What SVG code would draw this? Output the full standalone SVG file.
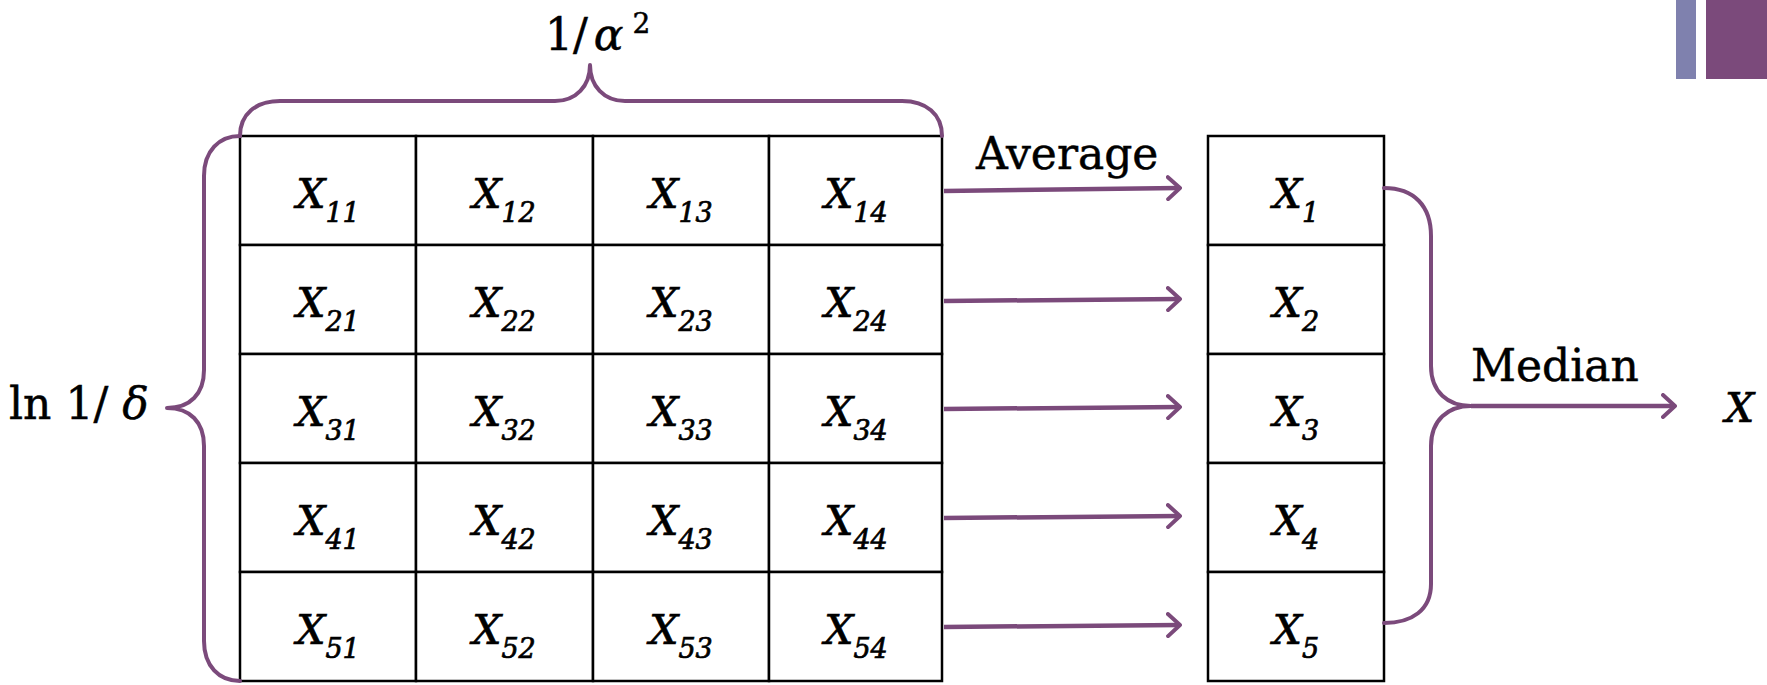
<svg xmlns="http://www.w3.org/2000/svg" width="1767" height="685" viewBox="0 0 1767 685">
<style>
.cell{fill:#ffffff;stroke:#000000;stroke-width:2.5}
.cx{font-family:"DejaVu Serif",serif;font-style:italic;font-size:41px;fill:#000000;stroke:#000000;stroke-width:0.7}
.sub{font-size:27px}
.lbl{font-family:"DejaVu Serif",serif;font-size:44px;fill:#000000;stroke:#000000;stroke-width:0.5}
.br{fill:none;stroke:#7b4a7b;stroke-width:4;stroke-linecap:round;stroke-linejoin:round}
.ar{fill:none;stroke:#7b4a7b;stroke-width:4.5;marker-end:url(#arr)}
</style>
<defs>
<marker id="arr" viewBox="0 0 16 26" refX="13" refY="13" markerWidth="16" markerHeight="26" markerUnits="userSpaceOnUse" orient="auto">
<path d="M2,2 L14,13 L2,24" fill="none" stroke="#7b4a7b" stroke-width="4" stroke-linecap="round" stroke-linejoin="round"/>
</marker>
</defs>
<rect width="1767" height="685" fill="#ffffff"/>
<g id="decor">
<rect x="1676" y="0" width="20" height="79" fill="#7f81ae"/>
<rect x="1706" y="0" width="61" height="79" fill="#7b4a7b"/>
</g>
<g id="grid">
<g id="c11"><rect class="cell" x="240" y="136" width="176" height="109"/><text class="cx" x="328" y="208" text-anchor="middle">X<tspan class="sub" dy="14">11</tspan></text></g>
<g id="c12"><rect class="cell" x="416" y="136" width="177" height="109"/><text class="cx" x="504" y="208" text-anchor="middle">X<tspan class="sub" dy="14">12</tspan></text></g>
<g id="c13"><rect class="cell" x="593" y="136" width="176" height="109"/><text class="cx" x="681" y="208" text-anchor="middle">X<tspan class="sub" dy="14">13</tspan></text></g>
<g id="c14"><rect class="cell" x="769" y="136" width="173" height="109"/><text class="cx" x="856" y="208" text-anchor="middle">X<tspan class="sub" dy="14">14</tspan></text></g>
<g id="c21"><rect class="cell" x="240" y="245" width="176" height="109"/><text class="cx" x="328" y="317" text-anchor="middle">X<tspan class="sub" dy="14">21</tspan></text></g>
<g id="c22"><rect class="cell" x="416" y="245" width="177" height="109"/><text class="cx" x="504" y="317" text-anchor="middle">X<tspan class="sub" dy="14">22</tspan></text></g>
<g id="c23"><rect class="cell" x="593" y="245" width="176" height="109"/><text class="cx" x="681" y="317" text-anchor="middle">X<tspan class="sub" dy="14">23</tspan></text></g>
<g id="c24"><rect class="cell" x="769" y="245" width="173" height="109"/><text class="cx" x="856" y="317" text-anchor="middle">X<tspan class="sub" dy="14">24</tspan></text></g>
<g id="c31"><rect class="cell" x="240" y="354" width="176" height="109"/><text class="cx" x="328" y="426" text-anchor="middle">X<tspan class="sub" dy="14">31</tspan></text></g>
<g id="c32"><rect class="cell" x="416" y="354" width="177" height="109"/><text class="cx" x="504" y="426" text-anchor="middle">X<tspan class="sub" dy="14">32</tspan></text></g>
<g id="c33"><rect class="cell" x="593" y="354" width="176" height="109"/><text class="cx" x="681" y="426" text-anchor="middle">X<tspan class="sub" dy="14">33</tspan></text></g>
<g id="c34"><rect class="cell" x="769" y="354" width="173" height="109"/><text class="cx" x="856" y="426" text-anchor="middle">X<tspan class="sub" dy="14">34</tspan></text></g>
<g id="c41"><rect class="cell" x="240" y="463" width="176" height="109"/><text class="cx" x="328" y="535" text-anchor="middle">X<tspan class="sub" dy="14">41</tspan></text></g>
<g id="c42"><rect class="cell" x="416" y="463" width="177" height="109"/><text class="cx" x="504" y="535" text-anchor="middle">X<tspan class="sub" dy="14">42</tspan></text></g>
<g id="c43"><rect class="cell" x="593" y="463" width="176" height="109"/><text class="cx" x="681" y="535" text-anchor="middle">X<tspan class="sub" dy="14">43</tspan></text></g>
<g id="c44"><rect class="cell" x="769" y="463" width="173" height="109"/><text class="cx" x="856" y="535" text-anchor="middle">X<tspan class="sub" dy="14">44</tspan></text></g>
<g id="c51"><rect class="cell" x="240" y="572" width="176" height="109"/><text class="cx" x="328" y="644" text-anchor="middle">X<tspan class="sub" dy="14">51</tspan></text></g>
<g id="c52"><rect class="cell" x="416" y="572" width="177" height="109"/><text class="cx" x="504" y="644" text-anchor="middle">X<tspan class="sub" dy="14">52</tspan></text></g>
<g id="c53"><rect class="cell" x="593" y="572" width="176" height="109"/><text class="cx" x="681" y="644" text-anchor="middle">X<tspan class="sub" dy="14">53</tspan></text></g>
<g id="c54"><rect class="cell" x="769" y="572" width="173" height="109"/><text class="cx" x="856" y="644" text-anchor="middle">X<tspan class="sub" dy="14">54</tspan></text></g>
</g>
<g id="avg">
<g id="a1"><rect class="cell" x="1208" y="136" width="176" height="109"/><text class="cx" x="1296" y="208" text-anchor="middle">X<tspan class="sub" dy="14">1</tspan></text></g>
<g id="a2"><rect class="cell" x="1208" y="245" width="176" height="109"/><text class="cx" x="1296" y="317" text-anchor="middle">X<tspan class="sub" dy="14">2</tspan></text></g>
<g id="a3"><rect class="cell" x="1208" y="354" width="176" height="109"/><text class="cx" x="1296" y="426" text-anchor="middle">X<tspan class="sub" dy="14">3</tspan></text></g>
<g id="a4"><rect class="cell" x="1208" y="463" width="176" height="109"/><text class="cx" x="1296" y="535" text-anchor="middle">X<tspan class="sub" dy="14">4</tspan></text></g>
<g id="a5"><rect class="cell" x="1208" y="572" width="176" height="109"/><text class="cx" x="1296" y="644" text-anchor="middle">X<tspan class="sub" dy="14">5</tspan></text></g>
</g>
<g id="result"><text class="cx" x="1725" y="422">X</text></g>
<g id="labels">
<text class="lbl" x="545" y="50">1/<tspan font-style="italic" dx="6">α</tspan><tspan font-size="28" dx="9" dy="-17">2</tspan></text>
<text class="lbl" x="9" y="419">ln 1/ <tspan font-style="italic">δ</tspan></text>
<text class="lbl" x="976" y="169">Average</text>
<text class="lbl" x="1471" y="381">Median</text>
</g>
<g id="connectors">
<path class="br" d="M240,136 C240,114 256,101 280,101 L555,101 C576,101 590,86 590,65 C590,86 604,101 625,101 L902,101 C926,101 942,114 942,136"/>
<path class="br" d="M240,136 C219,136 204,151 204,176 L204,370 C204,394 190,408 167,408 C190,408 204,422 204,446 L204,641 C204,666 219,681 240,681"/>
<path class="br" d="M1384,188 C1414,188 1431,206 1431,236 L1431,366 C1431,392 1448,406 1471,406 C1448,406 1431,420 1431,446 L1431,584 C1431,610 1412,623 1384,623"/>
<path class="ar" d="M944,191 L1179,188"/>
<path class="ar" d="M944,301 L1179,299"/>
<path class="ar" d="M944,409 L1179,407"/>
<path class="ar" d="M944,518 L1179,516"/>
<path class="ar" d="M944,627 L1179,625"/>
<path class="ar" d="M1471,406 L1674,406"/>
</g>
</svg>
